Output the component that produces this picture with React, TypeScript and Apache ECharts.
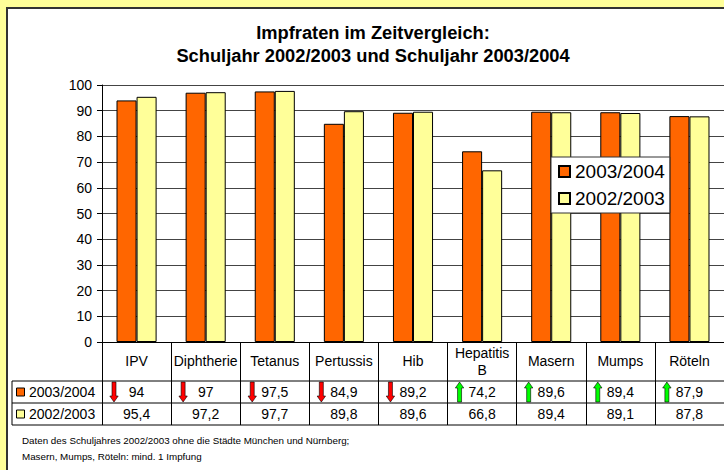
import React, { useEffect, useRef } from "react";
import * as echarts from "echarts";

const categories = ["IPV", "Diphtherie", "Tetanus", "Pertussis", "Hib", "Hepatitis\nB", "Masern", "Mumps", "Röteln"];
const seriesNames = ["2003/2004", "2002/2003"];
const values2004 = [94, 97, 97.5, 84.9, 89.2, 74.2, 89.6, 89.4, 87.9];
const values2003 = [95.4, 97.2, 97.7, 89.8, 89.6, 66.8, 89.4, 89.1, 87.8];
const titleLines = ["Impfraten im Zeitvergleich:", "Schuljahr 2002/2003 und Schuljahr 2003/2004"];
const footnotes = [
  "Daten des Schuljahres 2002/2003 ohne die Städte München und Nürnberg;",
  "Masern, Mumps, Röteln: mind. 1 Impfung",
];
const yMin = 0;
const yMax = 100;
const yInterval = 10;

const ORANGE = "#FF6600";
const YELLOW = "#FFFF99";
const FONT = "'Liberation Sans', Arial, sans-serif";

const fmt = (v: number) => String(v).replace(".", ",");

export default function App() {
  const ref = useRef<HTMLDivElement>(null);

  useEffect(() => {
    if (!ref.current) return;
    const chart = echarts.init(ref.current, undefined, { renderer: "svg" });
    chart.setOption({
      animation: false,
      backgroundColor: "transparent",
      textStyle: { fontFamily: FONT },
      grid: { left: 102, top: 85, width: 630, height: 257, containLabel: false },
      legend: {
        orient: "vertical",
        left: 551,
        top: 157,
        itemWidth: 11,
        itemHeight: 11,
        itemGap: 8,
        padding: [5, 5, 5, 7],
        backgroundColor: "#fff",
        borderColor: "#333",
        borderWidth: 1,
        icon: "rect",
        textStyle: { fontSize: 19, color: "#000", fontFamily: FONT },
        data: seriesNames,
      },
      xAxis: {
        type: "category",
        data: categories,
        axisLine: { show: true, lineStyle: { color: "#000", width: 1 } },
        axisTick: { show: true, interval: 0, length: 83, lineStyle: { color: "#000", width: 1 } },
        axisLabel: {
          interval: 0,
          margin: 19,
          verticalAlign: "middle",
          fontSize: 14,
          lineHeight: 17,
          color: "#000",
          fontFamily: FONT,
        },
      },
      yAxis: {
        type: "value",
        min: yMin,
        max: yMax,
        interval: yInterval,
        axisLine: { show: true, lineStyle: { color: "#000", width: 1 } },
        axisTick: { show: true, length: 5, lineStyle: { color: "#000" } },
        axisLabel: { fontSize: 14, color: "#000", margin: 10, fontFamily: FONT },
        splitLine: { show: true, lineStyle: { color: "#444", width: 1 } },
      },
      series: [
        {
          name: seriesNames[0],
          type: "bar",
          data: values2004,
          barGap: "0%",
          barCategoryGap: "42%",
          itemStyle: { color: ORANGE, borderColor: "#000", borderWidth: 1 },
        },
        {
          name: seriesNames[1],
          type: "bar",
          data: values2003,
          barGap: "0%",
          barCategoryGap: "42%",
          itemStyle: { color: YELLOW, borderColor: "#000", borderWidth: 1 },
        },
      ],
    });

    const xs = categories.map((_, i) => chart.convertToPixel({ xAxisIndex: 0 }, i) as number);
    const half = (xs[1] - xs[0]) / 2;
    const tableLeft = 12;
    const tableRight = xs[xs.length - 1] + half;
    const rowLines = [381, 403, 425];
    const rowCenters = [392, 414];
    const els: any[] = [];

    titleLines.forEach((t, i) => {
      els.push({
        type: "text",
        x: 373,
        y: 32 + i * 23,
        style: { text: t, fontSize: 18.3, fontWeight: "bold", fontFamily: FONT, fill: "#000", align: "center", verticalAlign: "middle" },
      });
    });

    rowLines.forEach((y) => {
      els.push({ type: "line", shape: { x1: tableLeft, y1: y, x2: tableRight, y2: y }, style: { stroke: "#000", lineWidth: 1 } });
    });
    els.push({ type: "line", shape: { x1: tableLeft, y1: rowLines[0], x2: tableLeft, y2: rowLines[2] }, style: { stroke: "#000", lineWidth: 1 } });

    const rowData = [values2004, values2003];
    const rowColors = [ORANGE, YELLOW];
    rowData.forEach((vals, r) => {
      const cy = rowCenters[r];
      els.push({ type: "rect", shape: { x: 16.5, y: cy - 4, width: 8, height: 8 }, style: { fill: rowColors[r], stroke: "#000", lineWidth: 1 } });
      els.push({ type: "text", x: 29, y: cy, style: { text: seriesNames[r], fontSize: 14, fontFamily: FONT, fill: "#000", align: "left", verticalAlign: "middle" } });
      vals.forEach((v, i) => {
        els.push({ type: "text", x: xs[i], y: cy, style: { text: fmt(v), fontSize: 14, fontFamily: FONT, fill: "#000", align: "center", verticalAlign: "middle" } });
      });
    });

    // trend arrows
    values2004.forEach((v, i) => {
      const up = v > values2003[i];
      const cx = xs[i] - half + 12;
      const top = rowLines[0] + 1;
      const bot = rowLines[1] - 1;
      const sw = 2;
      const hw = 4.2;
      const hh = 6;
      let pts: number[][];
      if (up) {
        pts = [[cx, top], [cx + hw, top + hh], [cx + sw, top + hh], [cx + sw, bot], [cx - sw, bot], [cx - sw, top + hh], [cx - hw, top + hh]];
      } else {
        pts = [[cx - sw, top], [cx + sw, top], [cx + sw, bot - hh], [cx + hw, bot - hh], [cx, bot], [cx - hw, bot - hh], [cx - sw, bot - hh]];
      }
      els.push({ type: "polygon", shape: { points: pts }, style: { fill: up ? "#00FF00" : "#FF0000", stroke: "#000", lineWidth: 0.6 } });
    });

    footnotes.forEach((t, i) => {
      els.push({ type: "text", x: 22, y: 440 + i * 16, style: { text: t, fontSize: 9.8, fontFamily: FONT, fill: "#000", align: "left", verticalAlign: "middle" } });
    });

    chart.setOption({ graphic: { elements: els } });

    return () => chart.dispose();
  }, []);

  return (
    <div style={{ position: "fixed", left: 0, top: 0, width: 724, height: 470, background: YELLOW, overflow: "hidden" }}>
      <div
        style={{
          position: "absolute",
          left: 6,
          top: 7,
          width: 800,
          height: 500,
          background: "#fff",
          border: "2px solid #333",
        }}
      />
      <div ref={ref} style={{ position: "absolute", left: 0, top: 0, width: 724, height: 470 }} />
    </div>
  );
}
